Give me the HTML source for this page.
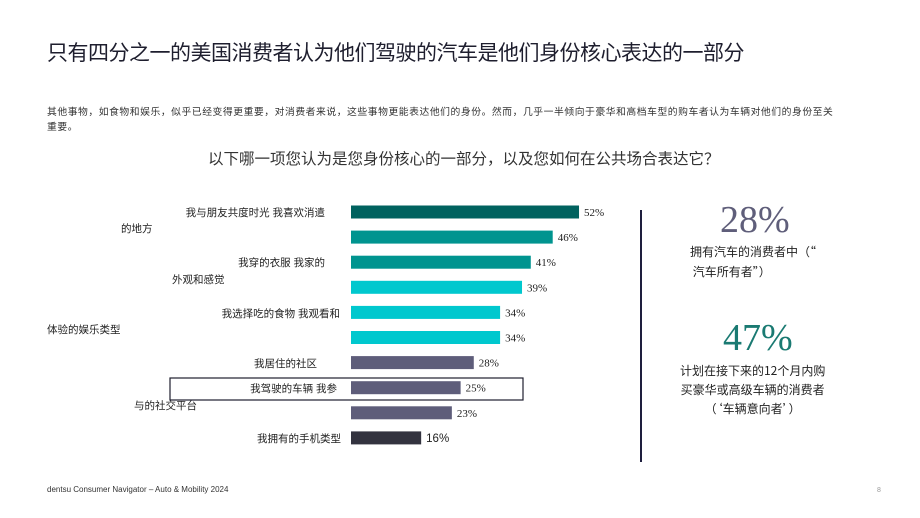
<!DOCTYPE html>
<html><head><meta charset="utf-8">
<style>
body{margin:0;width:920px;height:518px;background:#fff;position:relative;overflow:hidden;font-family:"Liberation Sans","Noto Sans CJK SC",sans-serif;color:#222}
.a{position:absolute;white-space:nowrap}
</style></head><body>
<div class="a" style="left:47px;top:37px;font-size:21px;letter-spacing:-0.5px;color:#1e1e2e">只有四分之一的美国消费者认为他们驾驶的汽车是他们身份核心表达的一部分</div>
<div class="a" style="left:47px;top:104px;font-size:9.8px;letter-spacing:0.55px;color:#333;line-height:15px;font-family:'Noto Sans CJK SC',sans-serif">其他事物，如食物和娱乐，似乎已经变得更重要，对消费者来说，这些事物更能表达他们的身份。然而，几乎一半倾向于豪华和高档车型的购车者认为车辆对他们的身份至关<br>重要。</div>
<div class="a" style="left:208px;top:147px;font-size:15.5px;color:#333">以下哪一项您认为是您身份核心的一部分，以及您如何在公共场合表达它？</div>
<svg class="a" style="left:0;top:0" width="920" height="518">
<g id="g"></g>
<rect x="170" y="378" width="353" height="22" fill="none" stroke="#1e1e2e" stroke-width="1.2"/>
<line x1="641" y1="210" x2="641" y2="462" stroke="#1e1e3e" stroke-width="2"/>
</svg>
<div class="a" style="left:720px;top:198px;font-size:38px;color:#5f5e7a;font-family:'Liberation Serif',serif">28%</div>
<div class="a" style="left:690px;top:242px;font-size:12px;line-height:20px;color:#222;font-family:'Noto Sans CJK SC',sans-serif">拥有汽车的消费者中（“<br>&nbsp;汽车所有者”）</div>
<div class="a" style="left:723px;top:316px;font-size:38px;color:#1a7a72;font-family:'Liberation Serif',serif">47%</div>
<div class="a" style="left:680px;top:361px;font-size:12px;line-height:19px;color:#222;text-align:center;font-family:'Noto Sans CJK SC',sans-serif">计划在接下来的12个月内购<br>买豪华或高级车辆的消费者<br>（‘车辆意向者’）</div>
<div class="a" style="left:47px;top:485px;font-size:8px;color:#333">dentsu Consumer Navigator – Auto &amp; Mobility 2024</div>
<div class="a" style="left:877px;top:487px;font-size:7px;color:#999">8</div>
<script>
const values=[52,46,41,39,34,34,28,25,23,16];
const valueLabels=["52%","46%","41%","39%","34%","34%","28%","25%","23%","16%"];
const colors=["#00625f","#00948f","#00948f","#00c8ce","#00c8ce","#00c8ce","#5e5d7a","#5e5d7a","#5e5d7a","#33333f"];
const labels=[["我与朋友共度时光 我喜欢消遣",325,212,1],["的地方",121,228,0],["我穿的衣服 我家的",325,262,1],["外观和感觉",172,279,0],["我选择吃的食物 我观看和",340,313,1],["体验的娱乐类型",47,329,0],["我居住的社区",254,363,0],["我驾驶的车辆 我参",337,388,1],["与的社交平台",134,405,0],["我拥有的手机类型",257,438,0]];
const x0=351,scale=4.385;
const xs=v=>x0+v*scale;
const ys=i=>212+i*25.1;
const g=document.getElementById('g');
const NS="http://www.w3.org/2000/svg";
values.forEach((v,i)=>{
 const r=document.createElementNS(NS,'rect');
 r.setAttribute('x',x0);r.setAttribute('y',ys(i)-6.5);
 r.setAttribute('width',xs(v)-x0);r.setAttribute('height',13);r.setAttribute('fill',colors[i]);
 
 
 g.appendChild(r);
 const t=document.createElementNS(NS,'text');
 t.setAttribute('x',xs(v)+5);t.setAttribute('y',ys(i)+4);
 t.setAttribute('font-size',i==9?'11.5':'11');
 t.setAttribute('font-family',i==9?'Liberation Sans, sans-serif':'Liberation Serif, serif');
 t.setAttribute('fill','#222');t.textContent=valueLabels[i];
 
 
 g.appendChild(t);
});
labels.forEach((l,i)=>{
 const t=document.createElementNS(NS,'text');
 t.setAttribute('x',l[1]);t.setAttribute('y',l[2]+4);
 if(l[3]) t.setAttribute('text-anchor','end');
 t.setAttribute('font-size','10.5');t.setAttribute('fill','#222');
 t.setAttribute('font-family','Liberation Sans, Noto Sans CJK SC, sans-serif');
 t.textContent=l[0];
 
 
 g.appendChild(t);
});
</script>
</body></html>
